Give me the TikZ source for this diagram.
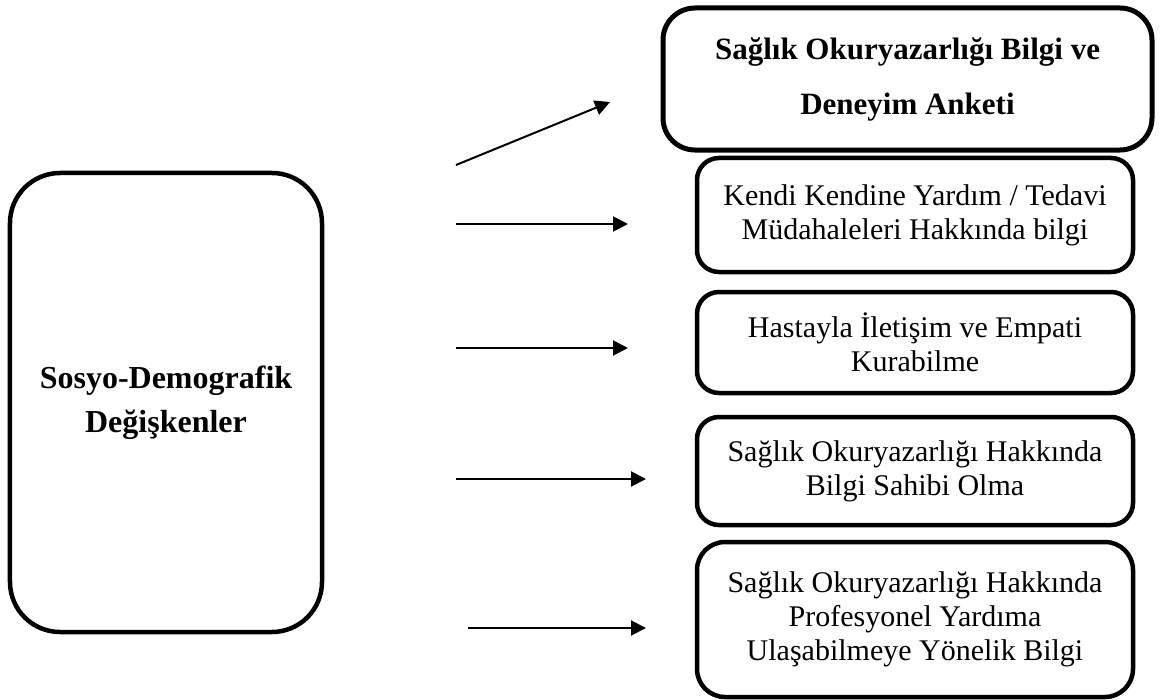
\documentclass[tikz,border=0pt]{standalone}
\usepackage{fontspec}
\setmainfont{Liberation Serif}
\usetikzlibrary{arrows.meta}
\tikzset{
  >={Triangle[length=15bp,width=15bp]},
  box/.style={draw=black,rounded corners=22bp,line width=4.5bp,align=center,inner sep=0pt,fill=white,font=\fontsize{30bp}{34bp}\selectfont},
  hbox/.style={box,line width=5bp,rounded corners=32bp,font=\bfseries\fontsize{31bp}{55bp}\selectfont},
  lbox/.style={box,rounded corners=50bp,font=\bfseries\fontsize{32bp}{44bp}\selectfont},
  arr/.style={->,draw=black,line width=2bp},
}
\begin{document}
\begin{tikzpicture}[x=1bp,y=-1bp]
\useasboundingbox (0,0) rectangle (1168,700);
\node[lbox,minimum width=312bp,minimum height=459bp] (sd) at (166,402.5) {Sosyo-Demografik\\Değişkenler};
\node[hbox,minimum width=489bp,minimum height=142bp] (anket) at (907.5,79) {Sağlık Okuryazarlığı Bilgi ve\\Deneyim Anketi};
\node[box,minimum width=436bp,minimum height=114bp] (yardim) at (915,215) {Kendi Kendine Yardım / Tedavi\\Müdahaleleri Hakkında bilgi};
\node[box,minimum width=436bp,minimum height=101bp] (empati) at (915,342.5) {Hastayla İletişim ve Empati\\Kurabilme};
\node[box,minimum width=436bp,minimum height=108bp] (sahibi) at (915,471) {Sağlık Okuryazarlığı Hakkında\\Bilgi Sahibi Olma};
\node[box,rounded corners=28bp,minimum width=436bp,minimum height=155bp] (profes) at (915,619.5) {Sağlık Okuryazarlığı Hakkında\\Profesyonel Yardıma\\Ulaşabilmeye Yönelik Bilgi};
% arrows (free standing)
\coordinate (s1) at (456,165); \coordinate (e1) at (610,102);
\coordinate (s2) at (456,224); \coordinate (e2) at (628,224);
\coordinate (s3) at (456,348); \coordinate (e3) at (628,348);
\coordinate (s4) at (456,479); \coordinate (e4) at (646,479);
\coordinate (s5) at (468,628); \coordinate (e5) at (646,628);
\draw[arr] (s1)--(e1); \draw[arr] (s2)--(e2); \draw[arr] (s3)--(e3); \draw[arr] (s4)--(e4); \draw[arr] (s5)--(e5);
\end{tikzpicture}
\end{document}
